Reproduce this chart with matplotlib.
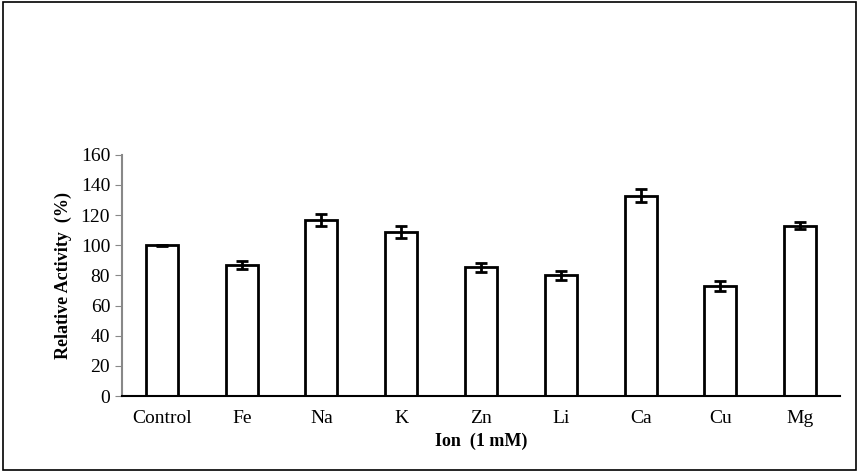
import matplotlib.pyplot as plt
from matplotlib.patches import Rectangle

ions = ["Control", "Fe", "Na", "K", "Zn", "Li", "Ca", "Cu", "Mg"]
activity = [100, 87, 117, 109, 85.5, 80, 133, 73, 113]
errors = [0.3, 2.5, 4, 4, 3, 3, 4, 3.5, 2.5]

plt.rcParams['font.family'] = ['Liberation Serif', 'DejaVu Serif']

fig = plt.figure(figsize=(8.59, 4.72), dpi=100)
fig.patches.append(Rectangle((0.003, 0.004), 0.994, 0.992, transform=fig.transFigure,
                             fill=False, edgecolor='black', linewidth=1.2))
ax = fig.add_axes([0.142, 0.161, 0.836, 0.511])

x = range(len(ions))
ax.bar(x, activity, width=0.4, color='white', edgecolor='black', linewidth=2,
       yerr=errors, capsize=4, error_kw=dict(elinewidth=2, capthick=2, ecolor='black'))

ax.set_xlim(-0.5, len(ions) - 0.5)
ax.set_ylim(0, 160)
ax.set_yticks(range(0, 161, 20))
ax.set_xticks(list(x))
ax.set_xticklabels(ions, fontsize=14)
ax.tick_params(axis='y', labelsize=14, color='#888888', length=5, direction='out')
ax.tick_params(axis='x', length=0, pad=10)
ax.spines['top'].set_visible(False)
ax.spines['right'].set_visible(False)
ax.spines['left'].set_color('#888888')
ax.spines['left'].set_linewidth(1.5)
ax.spines['bottom'].set_linewidth(1.5)

ax.set_xlabel('Ion  (1 mM)', fontsize=13, fontweight='bold', labelpad=4)
ax.set_ylabel('Relative Activity  (%)', fontsize=13, fontweight='bold', labelpad=6)

fig.savefig('out.png', dpi=100)
